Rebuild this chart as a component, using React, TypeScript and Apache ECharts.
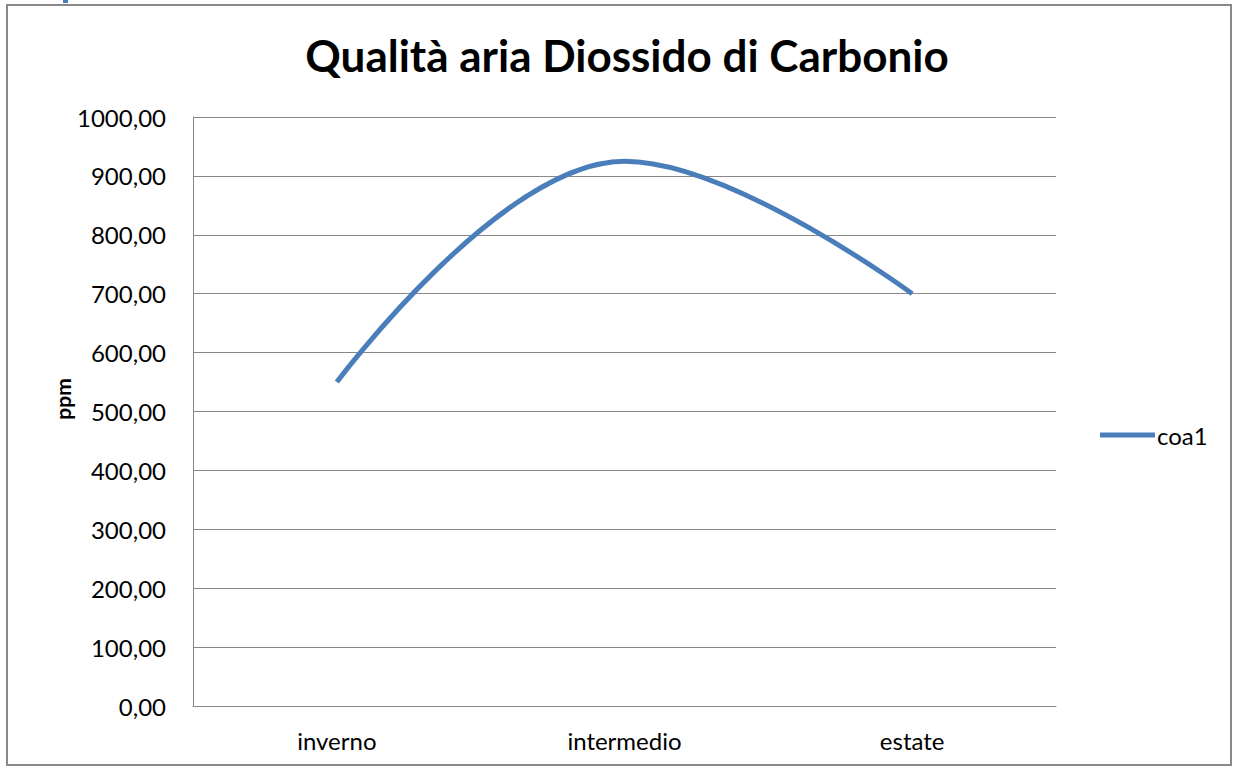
import React, { useEffect, useRef } from "react";
import * as echarts from "echarts";

const categories = ["inverno", "intermedio", "estate"];
const seriesName = "coa1";
const values = [550, 925, 700];
const yTicks = { min: 0, max: 1000, interval: 100 };
const yAxisTitle = "ppm";

export default function App() {
  const ref = useRef<HTMLDivElement>(null);
  useEffect(() => {
    const chart = echarts.init(ref.current!, null, { renderer: "svg" });
    const font = "Lato";
    chart.setOption({
      animation: false,
      backgroundColor: "#ffffff",
      title: {
        text: "Qualità aria Diossido di Carbonio",
        left: 622,
        textAlign: "center",
        top: 28,
        textStyle: { fontFamily: font, fontSize: 44, fontWeight: "bold", color: "#000" },
      },
      graphic: [
        { type: "rect", shape: { x: 7, y: 5, width: 1224, height: 760 }, style: { fill: "none", stroke: "#898989", lineWidth: 2 } },
        { type: "rect", shape: { x: 63, y: 0, width: 5, height: 3 }, style: { fill: "#4A7EBB" } },
        {
          type: "text",
          x: 62,
          y: 399,
          rotation: Math.PI / 2,
          style: {
            text: yAxisTitle,
            fontFamily: font,
            fontSize: 21,
            fontWeight: "bold",
            fill: "#000",
            align: "center",
            verticalAlign: "middle",
          },
        },
      ],
      legend: {
        left: 1095,
        top: 418,
        icon: "rect",
        itemWidth: 55,
        itemHeight: 5,
        itemGap: 2,
        textStyle: { fontFamily: font, fontSize: 24, color: "#000", padding: [0, 0, 0, -3] },
        data: [seriesName],
      },
      grid: { left: 193, right: 178, top: 117, bottom: 62 },
      xAxis: {
        type: "category",
        data: categories,
        boundaryGap: true,
        axisLine: { lineStyle: { color: "#888", width: 1 } },
        axisTick: { show: false },
        axisLabel: { fontFamily: font, fontSize: 24, color: "#000", margin: 22 },
      },
      yAxis: {
        type: "value",
        min: yTicks.min,
        max: yTicks.max,
        interval: yTicks.interval,
        axisLine: { show: true, lineStyle: { color: "#888", width: 1 } },
        axisTick: { show: false },
        splitLine: { lineStyle: { color: "#888", width: 1 } },
        axisLabel: {
          fontFamily: font,
          fontSize: 24,
          color: "#000",
          margin: 27,
          formatter: (v: number) => v.toFixed(2).replace(".", ","),
        },
      },
      series: [
        {
          name: seriesName,
          type: "line",
          data: values,
          smooth: 0.4,
          symbol: "none",
          lineStyle: { color: "#4A7EBB", width: 5 },
          itemStyle: { color: "#4A7EBB" },
        },
      ],
    });
    return () => chart.dispose();
  }, []);
  return (
    <div
      ref={ref}
      style={{ position: "fixed", left: 0, top: 0, width: 1234, height: 768 }}
    />
  );
}
